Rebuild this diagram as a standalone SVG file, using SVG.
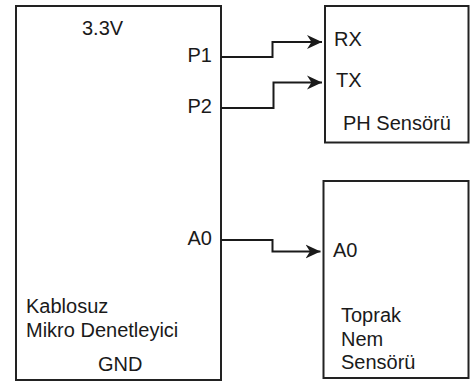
<svg xmlns="http://www.w3.org/2000/svg" width="470" height="382" viewBox="0 0 470 382">
<style>
.box{fill:#fff;stroke:#222;stroke-width:2}
.t{font-family:"Liberation Sans",Arial,sans-serif;font-size:20px;fill:#1a1a1a}
.r{text-anchor:end}
.c{fill:none;stroke:#1a1a1a;stroke-width:2}
</style>
<defs>
<marker id="ah" markerUnits="userSpaceOnUse" markerWidth="18" markerHeight="18" viewBox="0 0 18 18" refX="15" refY="9" orient="auto">
<path d="M0,2 L15,9 L0,16 L4.5,9 Z" fill="#1a1a1a"/>
</marker>
</defs>
<rect width="470" height="382" fill="#fff"/>
<g id="mcu">
<rect class="box" x="16" y="6" width="205" height="374"/>
<text class="t" x="82" y="35">3.3V</text>
<text class="t r" x="212" y="62">P1</text>
<text class="t r" x="212" y="113">P2</text>
<text class="t r" x="212" y="245">A0</text>
<text class="t" x="26" y="313">Kablosuz</text>
<text class="t" x="26" y="337">Mikro Denetleyici</text>
<text class="t" x="98" y="371">GND</text>
</g>
<g id="ph">
<rect class="box" x="325" y="6" width="143.5" height="136.5"/>
<text class="t" x="334" y="46">RX</text>
<text class="t" x="336" y="87">TX</text>
<text class="t" x="343" y="130">PH Sensörü</text>
</g>
<g id="toprak">
<rect class="box" x="323.5" y="181" width="145" height="197"/>
<text class="t" x="333" y="257">A0</text>
<text class="t" x="341" y="322">Toprak</text>
<text class="t" x="341" y="346">Nem</text>
<text class="t" x="341" y="369">Sensörü</text>
</g>
<g id="connectors">
<path class="c" d="M221,57 H272.5 V42 H322" marker-end="url(#ah)"/>
<path class="c" d="M221,108 H273.5 V82.5 H322" marker-end="url(#ah)"/>
<path class="c" d="M221,240 H272.5 V251.5 H320.5" marker-end="url(#ah)"/>
</g>
</svg>
